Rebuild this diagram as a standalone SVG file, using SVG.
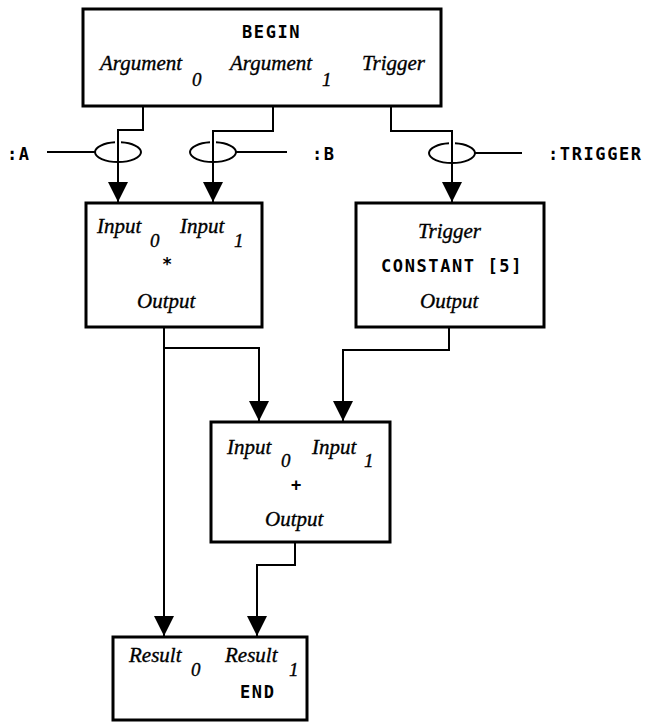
<svg xmlns="http://www.w3.org/2000/svg" width="649" height="723" viewBox="0 0 649 723">
<style>
.box{fill:#fff;stroke:#000;stroke-width:3}
.ln{fill:none;stroke:#000;stroke-width:2}
.mono{font-family:"DejaVu Sans Mono","Liberation Mono",monospace;font-weight:bold;font-size:17px;letter-spacing:1.6px;fill:#000}
.it{font-family:"Liberation Serif","Times New Roman",serif;font-style:italic;font-size:21px;fill:#000;stroke:#000;stroke-width:0.35}
.sub{font-family:"Liberation Serif","Times New Roman",serif;font-style:italic;font-size:19px;fill:#000;stroke:#000;stroke-width:0.35}
</style>
<defs>
<marker id="ah" viewBox="0 0 20 20" refX="20" refY="10" markerWidth="20" markerHeight="20" markerUnits="userSpaceOnUse" orient="auto">
<path d="M0,0 L20,10 L0,20 Z" fill="#000"/>
</marker>
</defs>
<rect width="649" height="723" fill="#fff"/>
<g id="connectors">
<path class="ln" d="M143,106 V130 H118 V202" marker-end="url(#ah)"/>
<path class="ln" d="M273,106 V131 H213 V202" marker-end="url(#ah)"/>
<path class="ln" d="M391,106 V131 H452 V202" marker-end="url(#ah)"/>
<path class="ln" d="M164,327 V636" marker-end="url(#ah)"/>
<path class="ln" d="M164,348 H259 V421" marker-end="url(#ah)"/>
<path class="ln" d="M449,327 V350 H343 V421" marker-end="url(#ah)"/>
<path class="ln" d="M295,542 V565 H257 V636" marker-end="url(#ah)"/>
</g>
<g id="tie-a">
<path class="ln" d="M115,142.3 A23,10 0 0 0 95,152 A23,10 0 0 0 141,152 A23,10 0 0 0 121,142.3"/>
<line class="ln" x1="47" y1="152" x2="95" y2="152"/>
<text class="mono" x="7" y="160">:A</text>
</g>
<g id="tie-b">
<path class="ln" d="M210,142.3 A23,10 0 0 0 190,152 A23,10 0 0 0 236,152 A23,10 0 0 0 216,142.3"/>
<line class="ln" x1="236" y1="152" x2="287" y2="152"/>
<text class="mono" x="312" y="160">:B</text>
</g>
<g id="tie-trigger">
<path class="ln" d="M449,143.3 A23,10 0 0 0 429,153 A23,10 0 0 0 475,153 A23,10 0 0 0 455,143.3"/>
<line class="ln" x1="475" y1="153" x2="522" y2="153"/>
<text class="mono" x="548" y="160">:TRIGGER</text>
</g>
<g id="begin">
<rect class="box" x="83" y="9" width="358" height="97"/>
<text class="mono" x="242" y="38">BEGIN</text>
<text class="it" x="100" y="70">Argument</text>
<text class="sub" x="192" y="86">0</text>
<text class="it" x="230" y="70">Argument</text>
<text class="sub" x="322" y="86">1</text>
<text class="it" x="362" y="70">Trigger</text>
</g>
<g id="multiply">
<rect class="box" x="86" y="203" width="176" height="124"/>
<text class="it" x="97" y="233">Input</text>
<text class="sub" x="150" y="247">0</text>
<text class="it" x="180" y="233">Input</text>
<text class="sub" x="234" y="247">1</text>
<text class="mono" x="168" y="270" text-anchor="middle" letter-spacing="0">*</text>
<text class="it" x="137" y="308">Output</text>
</g>
<g id="constant">
<rect class="box" x="356" y="203" width="188" height="124"/>
<text class="it" x="418" y="238">Trigger</text>
<text class="mono" x="452" y="272" text-anchor="middle">CONSTANT [5]</text>
<text class="it" x="420" y="308">Output</text>
</g>
<g id="plus">
<rect class="box" x="211" y="422" width="179" height="120"/>
<text class="it" x="227" y="454">Input</text>
<text class="sub" x="281" y="467">0</text>
<text class="it" x="312" y="454">Input</text>
<text class="sub" x="364" y="467">1</text>
<text class="mono" x="297" y="491" text-anchor="middle" letter-spacing="0">+</text>
<text class="it" x="265" y="526">Output</text>
</g>
<g id="end">
<rect class="box" x="113" y="637" width="194" height="83"/>
<text class="it" x="129" y="662">Result</text>
<text class="sub" x="191" y="676">0</text>
<text class="it" x="225" y="662">Result</text>
<text class="sub" x="289" y="676">1</text>
<text class="mono" x="240" y="698">END</text>
</g>
</svg>
